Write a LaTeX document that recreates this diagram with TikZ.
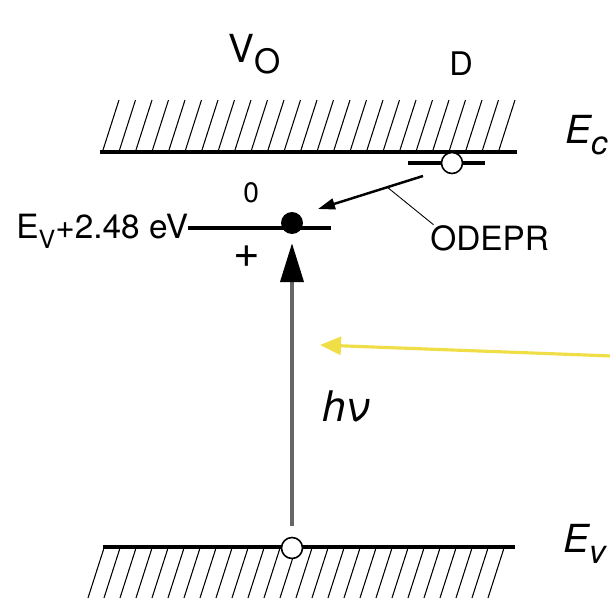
\documentclass[tikz,border=0pt]{standalone}
\usepackage{fontspec}
\setmainfont{TeX Gyre Heros}
\usepackage{graphicx}
\usetikzlibrary{arrows.meta}
\definecolor{lightray}{RGB}{240,222,70}
\newcommand{\lowsub}[2][0.85]{\raisebox{-0.3em}{\scalebox{#1}{#2}}}

\begin{document}
\begin{tikzpicture}[x=0.02cm, y=-0.02cm,
    band/.style={line width=2.8pt},
    lvl/.style={line width=2.3pt},
    hatchline/.style={line width=0.6pt},
    hole/.style={circle, draw, fill=white, line width=0.9pt, inner sep=0pt, minimum size=0.42cm},
    electron/.style={circle, fill=black, inner sep=0pt, minimum size=0.44cm},
    lbl/.style={inner sep=0pt, anchor=base west}]
    \useasboundingbox (0,0) rectangle (610,609);
    % Leitungsband
    \foreach \x in {103,119.5,...,506} {
        \draw[hatchline] (\x,150) -- ++(16,-50);
    }
    \coordinate (ecL) at (100,152);
    \coordinate (ecR) at (517,152);
    \draw[band] (ecL) -- (ecR);
    \node[lbl, font=\fontsize{22}{24}\selectfont\itshape] (ec) at (565,143) {E\lowsub{c}};
    % Valenzband
    \foreach \x in {88,104,...,490} {
        \draw[hatchline] (\x,598) -- ++(16,-50);
    }
    \coordinate (evL) at (103,547);
    \coordinate (evR) at (515,547);
    \draw[band] (evL) -- (evR);
    \node[lbl, font=\fontsize{22}{24}\selectfont\itshape] (ev) at (563,552) {E\lowsub{v}};
    % Defekte
    \node[lbl, font=\fontsize{22}{24}\selectfont] (vo) at (228,62) {V\lowsub[0.87]{O}};
    \node[lbl, font=\fontsize{18.5}{20}\selectfont] (dlabel) at (449,75) {D};
    % Donatorniveau
    \coordinate (dL) at (408,163);
    \coordinate (dR) at (485,163);
    \draw[lvl] (dL) -- (dR);
    \node[hole] (dhole) at (452,163) {};
    % Niveau E_V+2.48 eV
    \node[lbl, font=\fontsize{19}{21}\selectfont] (lvllabel) at (16,238) {E\lowsub[0.75]{V}+2.48 eV};
    \coordinate (oR) at (331,228);
    \draw[lvl] (lvllabel.east |- oR) -- (oR);
    \node[electron] (elec) at (292,223) {};
    \node[lbl, font=\fontsize{16}{18}\selectfont] (zero) at (243,202) {0};
    \node[inner sep=0pt, font=\fontsize{26}{28}\selectfont] (plus) at (247,257) {+};
    \node[hole] (vhole) at (292,548) {};
    % Uebergaenge
    \coordinate (dstart) at (423,176);
    \coordinate (dend) at (318,209);
    \draw[line width=1.4pt, -{Triangle[length=0.34cm, width=0.22cm]}]
        (dstart) -- coordinate[pos=0.34] (amid) (dend);
    \node[lbl, font=\fontsize{19}{21}\selectfont] (odepr) at (430,250) {ODEPR};
    \draw[line width=0.5pt] (amid) -- ([xshift=2pt]odepr.north west);
    \draw[black!60, line width=2.3pt, shorten <=6pt, shorten >=5pt,
        -{Triangle[length=0.78cm, width=0.46cm, color=black]}] (vhole) -- (elec);
    \node[lbl, font=\fontsize{24}{26}\selectfont\itshape] (hnu) at (322,421) {hν};
    % Licht
    \coordinate (rayin) at (612,356);
    \coordinate (raytip) at (320,345);
    \draw[lightray, line width=1.8pt, -{Triangle[length=0.42cm, width=0.36cm]}] (rayin) -- (raytip);
\end{tikzpicture}
\end{document}
